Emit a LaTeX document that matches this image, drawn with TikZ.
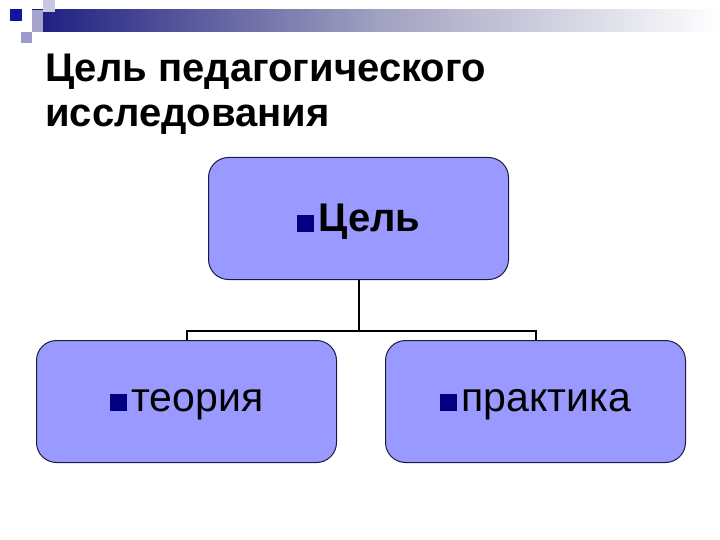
\documentclass[tikz,border=0pt]{standalone}
\usepackage{fontspec}
\setmainfont{Liberation Sans}
\usetikzlibrary{calc}
\definecolor{boxfill}{HTML}{9999FF}
\definecolor{boxline}{HTML}{1A1A40}
\definecolor{bulletc}{HTML}{000080}
\definecolor{barnavy}{HTML}{1C1C80}
\definecolor{barmid}{HTML}{A0A0C0}
\definecolor{sqdark}{HTML}{1414A0}
\definecolor{sqlav}{HTML}{9A9ACC}
\definecolor{sqlight}{HTML}{C8C8E2}
\newcommand{\blt}{\textcolor{bulletc}{\rule{17pt}{17pt}}\hspace{5pt}}
\tikzset{
  card/.style={draw=boxline, line width=1pt, fill=boxfill, rounded corners=20pt,
    minimum width=300pt, minimum height=122pt, inner sep=0pt, anchor=north west},
  cardtext/.style={font=\fontsize{41}{48}\selectfont},
  link/.style={draw=black, line width=2pt},
  titletext/.style={font=\bfseries\fontsize{40}{48}\selectfont, anchor=base west, inner sep=0pt}
}
\begin{document}
\begin{tikzpicture}[x=1pt,y=-1pt]
\useasboundingbox (0,0) rectangle (720,540);
% decoration
\shade[left color=barnavy, right color=white, middle color=barmid] (32,10) rectangle (720,32);
\fill[white, opacity=0.6] (22,10) rectangle (43,32);
\fill[sqlight] (43,0) rectangle (55,12);
\fill[sqdark] (10,9) rectangle (22,21);
\fill[sqlav] (21,32) rectangle (32,43);
% title
\node[titletext] (t1) at (45,82) {Цель педагогического};
\node[titletext] (t2) at (45,127) {исследования};
% boxes
\node[card] (top) at (208,157) {};
\node[card] (left) at (36,340) {};
\node[card] (right) at (385,340) {};
\node[cardtext, font=\bfseries\fontsize{40}{48}\selectfont, anchor=base] (ttop) at ($(top.north)+(0,75)$) {\blt Цель};
\node[cardtext, anchor=base] (tleft) at ($(left.north)+(0,71)$) {\blt теория};
\node[cardtext, anchor=base] (tright) at ($(right.north)+(0,71)$) {\blt практика};
% connectors
\coordinate (hy) at (0,331);
\draw[link] (top.south) -- (top.south |- hy);
\draw[link] (left.north) -- (left.north |- hy) -- (right.north |- hy) -- (right.north);
\end{tikzpicture}
\end{document}
